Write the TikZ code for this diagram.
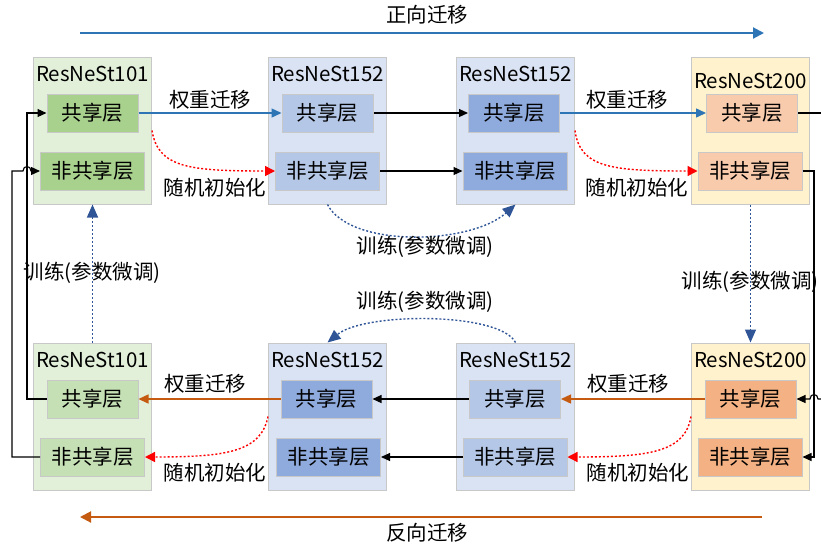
\documentclass[tikz,border=0pt]{standalone}
\usepackage{fontspec}
\setmainfont{Noto Sans CJK SC}
\usetikzlibrary{arrows.meta}
\definecolor{boxgray}{HTML}{C8C8C8}
\definecolor{gOut}{HTML}{E2F0D9}
\definecolor{gInA}{HTML}{A9D18E}
\definecolor{gInB}{HTML}{C5E0B4}
\definecolor{bOut}{HTML}{DAE3F3}
\definecolor{bInL}{HTML}{B4C7E7}
\definecolor{bInD}{HTML}{8FAADC}
\definecolor{yOut}{HTML}{FFF2CC}
\definecolor{oInA}{HTML}{F8CBAD}
\definecolor{oInB}{HTML}{F4B183}
\definecolor{lineblue}{HTML}{2E75B6}
\definecolor{dotblue}{HTML}{2F5597}
\definecolor{lineorange}{HTML}{C55A11}
\tikzset{
  outerbox/.style={draw=boxgray, line width=1pt, minimum width=118pt, minimum height=147pt, inner sep=0pt},
  sharedbox/.style={draw=boxgray, line width=1pt, minimum width=91pt, minimum height=38pt, inner sep=0pt},
  nsbox/.style={draw=boxgray, line width=1pt, minimum width=104pt, minimum height=38pt, inner sep=0pt},
  lbl/.style={inner sep=0pt},
  blk/.style={draw=black, line width=1.1pt, -{Triangle[length=9pt,width=8pt]}},
  plainblk/.style={draw=black, line width=1.1pt},
  wtblue/.style={draw=lineblue, line width=1.4pt, -{Triangle[length=10pt,width=9pt]}},
  wtorange/.style={draw=lineorange, line width=1.4pt, -{Triangle[length=10pt,width=9pt]}},
  rnd/.style={draw=red, line width=1.4pt, dash pattern=on 2pt off 2pt, -{Triangle[length=10pt,width=10pt,fill=red]}},
  train/.style={draw=dotblue, line width=1.4pt, dash pattern=on 2pt off 2pt, -{Triangle[length=13pt,width=11pt,fill=dotblue]}},
  bigblue/.style={draw=lineblue, line width=2pt, -{Triangle[length=11pt,width=11pt]}},
  bigorange/.style={draw=lineorange, line width=2pt, -{Triangle[length=11pt,width=11pt]}}
}
\begin{document}
\begin{tikzpicture}[x=1pt,y=-1pt,font=\fontsize{20.5}{24}\selectfont]
\useasboundingbox (0,0) rectangle (821,547);
% top row outer boxes
\node[outerbox, fill=gOut] (o1) at (92.5,130.5) {};
\node[outerbox, fill=bOut] (o2) at (327.5,130.5) {};
\node[outerbox, fill=bOut] (o3) at (515.5,130.5) {};
\node[outerbox, fill=yOut] (o4) at (750.5,130.5) {};
% bottom row outer boxes
\node[outerbox, fill=gOut] (o5) at (92.5,416.5) {};
\node[outerbox, fill=bOut] (o6) at (327.5,416.5) {};
\node[outerbox, fill=bOut] (o7) at (515.5,416.5) {};
\node[outerbox, fill=yOut] (o8) at (750.5,416.5) {};
% titles
\node[lbl] (t1) at (92.5,74) {ResNeSt101};
\node[lbl] (t2) at (327.5,74) {ResNeSt152};
\node[lbl] (t3) at (515.5,74) {ResNeSt152};
\node[lbl] (t4) at (750.5,81) {ResNeSt200};
\node[lbl] (t5) at (92.5,360) {ResNeSt101};
\node[lbl] (t6) at (327.5,360) {ResNeSt152};
\node[lbl] (t7) at (515.5,360) {ResNeSt152};
\node[lbl] (t8) at (750.5,360) {ResNeSt200};
% inner boxes top
\node[sharedbox, fill=gInA] (s1) at (92.5,113) {共享层};
\node[nsbox, fill=gInA] (n1) at (92.5,171) {非共享层};
\node[sharedbox, fill=bInL] (s2) at (327.5,113) {共享层};
\node[nsbox, fill=bInL] (n2) at (327.5,171) {非共享层};
\node[sharedbox, fill=bInD] (s3) at (514,113) {共享层};
\node[nsbox, fill=bInD] (n3) at (515,171) {非共享层};
\node[sharedbox, fill=oInA] (s4) at (752,113) {共享层};
\node[nsbox, fill=oInA] (n4) at (750,171) {非共享层};
% inner boxes bottom
\node[sharedbox, fill=gInB] (s5) at (92.5,399) {共享层};
\node[nsbox, fill=gInB] (n5) at (92.5,457) {非共享层};
\node[sharedbox, fill=bInD] (s6) at (326.5,399) {共享层};
\node[nsbox, fill=bInD] (n6) at (328.5,457) {非共享层};
\node[sharedbox, fill=bInL] (s7) at (515,399) {共享层};
\node[nsbox, fill=bInL] (n7) at (515,457) {非共享层};
\node[sharedbox, fill=oInB] (s8) at (750.5,399) {共享层};
\node[nsbox, fill=oInB] (n8) at (750,457) {非共享层};
% big arrows
\coordinate (fa) at (80,33);
\coordinate (fb) at (764,33);
\draw[bigblue] (fa) -- (fb);
\node[lbl] (ft) at (427,15) {正向迁移};
\coordinate (ra) at (762,517);
\coordinate (rb) at (80,517);
\draw[bigorange] (ra) -- (rb);
\node[lbl] (rt) at (427,533) {反向迁移};
% top row connections
\draw[wtblue] (s1) -- (s2);
\node[lbl] (w1) at (210,100) {权重迁移};
\draw[rnd] (o1.east) .. controls (158,168) and (190,171) .. (n2.west);
\node[lbl] (r1) at (215,188) {随机初始化};
\draw[blk] (s2) -- (s3);
\draw[blk] (n2) -- (n3);
\draw[train] (o2.south) .. controls (350,248) and (470,245) .. (o3.south);
\node[lbl] (tr1) at (425,247) {训练(参数微调)};
\draw[wtblue] (s3) -- (s4);
\node[lbl] (w2) at (627,100) {权重迁移};
\draw[rnd] (o3.east) .. controls (580,168) and (612,171) .. (n4.west);
\node[lbl] (r2) at (637,188) {随机初始化};
% right side
\coordinate (re1) at (821,113);
\coordinate (re2) at (821,399);
\coordinate (rv1) at (814,171);
\coordinate (rv2) at (814,457);
\draw[plainblk] (s4.east) -- (re1);
\draw[blk] (n4.east) -- (rv1) -- (rv2) -- (n8.east);
\draw[blk] (re2) -- (818,399) .. controls (818,393) and (810,393) .. (810,399) -- (s8.east);
\draw[train] (o4.south) -- (o8.north);
\node[lbl] (tr2) at (750,282) {训练(参数微调)};
% bottom row connections
\draw[wtorange] (s8) -- (s7);
\node[lbl] (w3) at (628,384) {权重迁移};
\draw[rnd] (o8.west) .. controls (685,452) and (650,457) .. (n7.east);
\node[lbl] (r3) at (638,473) {随机初始化};
\draw[blk] (s7) -- (s6);
\draw[blk] (n7) -- (n6);
\draw[train] (o7.north) .. controls (500,312) and (365,312) .. (o6.north);
\node[lbl] (tr3) at (425,302) {训练(参数微调)};
\draw[wtorange] (s6) -- (s5);
\node[lbl] (w4) at (205,384) {权重迁移};
\draw[rnd] (o6.west) .. controls (261,452) and (226,457) .. (n5.east);
\node[lbl] (r4) at (215,473) {随机初始化};
\draw[train] (o5.north) -- (o1.south);
\node[lbl] (tr4) at (92,273) {训练(参数微调)};
% left side
\coordinate (lv1) at (27,399);
\coordinate (lv2) at (27,113);
\coordinate (lo1) at (12,457);
\coordinate (lo2) at (12,171);
\draw[blk] (s5.west) -- (lv1) -- (lv2) -- (s1.west);
\draw[blk] (n5.west) -- (lo1) -- (lo2) -- (23,171) .. controls (23,165) and (31,165) .. (31,171) -- (n1.west);
\end{tikzpicture}
\end{document}
